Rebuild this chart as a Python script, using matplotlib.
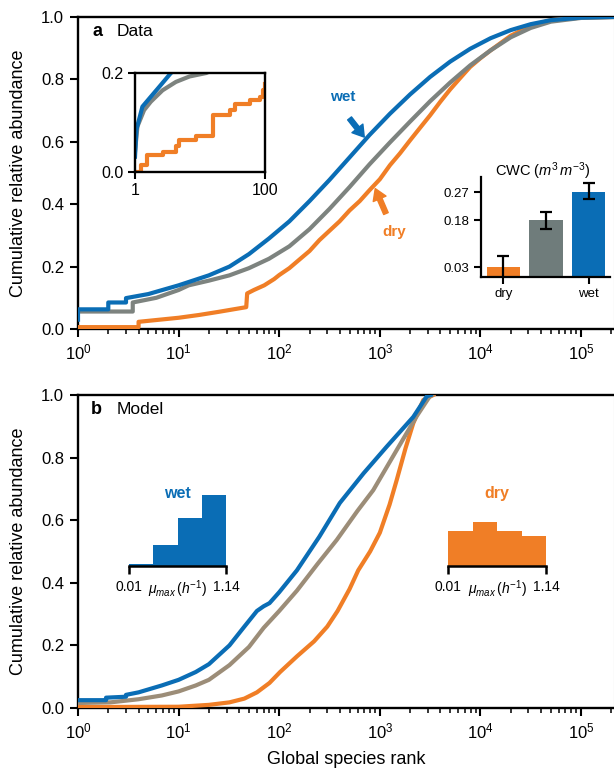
import matplotlib
matplotlib.use('Agg')
import matplotlib.pyplot as plt
import numpy as np
from matplotlib.ticker import LogLocator, NullFormatter, NullLocator

plt.rcParams['font.family'] = ['Liberation Sans', 'DejaVu Sans']
plt.rcParams['mathtext.fontset'] = 'custom'
plt.rcParams['mathtext.rm'] = 'Liberation Sans'
plt.rcParams['mathtext.it'] = 'Liberation Sans:italic'
plt.rcParams['mathtext.bf'] = 'Liberation Sans:bold'
plt.rcParams['mathtext.default'] = 'regular'

# ---------------- data ----------------
# Panel a (data): cumulative relative abundance vs global species rank
wet_a_rank = [1, 1, 2, 2, 3, 3, 5, 10, 20, 32, 50, 79, 126, 200, 316, 500, 790, 1260, 2000,
              3160, 5000, 7900, 12600, 20000, 31600, 50000, 100000, 210000]
wet_a_val = [0.03, 0.063, 0.063, 0.085, 0.085, 0.099, 0.112, 0.140, 0.172, 0.200, 0.240, 0.290,
             0.345, 0.410, 0.478, 0.550, 0.622, 0.690, 0.752, 0.808, 0.857, 0.898, 0.932, 0.958,
             0.977, 0.990, 0.998, 1.0]

mid_a_rank = [1, 3.5, 3.5, 6, 10, 12.6, 20, 32, 50, 79, 126, 200, 316, 500, 790, 1260, 2000,
              3160, 5000, 7900, 12600, 20000, 31600, 50000, 100000, 210000]
mid_a_val = [0.056, 0.056, 0.085, 0.100, 0.125, 0.140, 0.155, 0.172, 0.195, 0.225, 0.265, 0.320,
             0.385, 0.455, 0.528, 0.598, 0.665, 0.730, 0.790, 0.845, 0.893, 0.935, 0.965, 0.985,
             0.997, 1.0]

dry_a_rank = [1, 4, 4, 10, 16, 25, 35, 47, 48, 56, 71, 89, 100, 126, 158, 200, 251, 316, 398,
              500, 631, 790, 1000, 1260, 1585, 2000, 2512, 3160, 3981, 5000, 6310, 7900, 10000,
              12600, 20000, 31600, 50000, 100000, 210000]
dry_a_val = [0.006, 0.006, 0.023, 0.036, 0.045, 0.055, 0.063, 0.070, 0.114, 0.125, 0.140, 0.160,
             0.173, 0.195, 0.222, 0.250, 0.285, 0.315, 0.345, 0.380, 0.410, 0.445, 0.480, 0.525,
             0.563, 0.605, 0.645, 0.685, 0.728, 0.768, 0.805, 0.840, 0.868, 0.893, 0.940, 0.972,
             0.990, 0.998, 1.0]

# Inset of panel a (ranks 1-100)
wet_in_rank = [1.0, 1.05, 1.3, 1.75, 2.36, 3.57, 4.5]
wet_in_val = [0.031, 0.085, 0.132, 0.152, 0.172, 0.2, 0.21]
mid_in_rank = [1.0, 1.09, 1.38, 1.75, 2.65, 4.26, 6.9, 12.5, 15]
mid_in_val = [0.041, 0.092, 0.125, 0.142, 0.165, 0.182, 0.193, 0.2, 0.205]
dry_in_rank = [1.0, 1.22, 1.55, 2.65, 4.26, 4.8, 8.7, 15.8, 28.7, 34, 58, 83, 94, 100]
dry_in_val = [0.001, 0.015, 0.035, 0.041, 0.052, 0.065, 0.072, 0.115, 0.125, 0.138, 0.145, 0.152, 0.165, 0.178]

# CWC bar inset
cwc_labels = ['dry', '', 'wet']
cwc_vals = [0.03, 0.18, 0.272]
cwc_err_lo = [0.035, 0.027, 0.022]
cwc_err_hi = [0.035, 0.027, 0.029]

# Panel b (model)
wet_b_rank = [1, 1.9, 1.9, 3, 3, 4, 6.8, 10, 14.8, 20, 32, 45, 60, 70, 80, 100, 150, 250, 400,
              690, 1170, 2150, 2930, 3200]
wet_b_val = [0.025, 0.025, 0.033, 0.036, 0.042, 0.050, 0.072, 0.090, 0.115, 0.140, 0.200, 0.260,
             0.310, 0.325, 0.335, 0.370, 0.440, 0.547, 0.655, 0.750, 0.835, 0.930, 0.996, 1.0]
mid_b_rank = [1, 2.1, 4, 6.8, 10, 14.8, 20, 32, 50, 70, 100, 150, 240, 373, 600, 860, 1470, 2300, 3140, 3300]
mid_b_val = [0.016, 0.018, 0.028, 0.040, 0.053, 0.072, 0.090, 0.137, 0.195, 0.256, 0.310, 0.375,
             0.460, 0.537, 0.630, 0.696, 0.824, 0.930, 0.996, 1.0]
dry_b_rank = [1, 10, 20, 32, 45, 60, 80, 102, 150, 222, 300, 380, 500, 610, 800, 1000, 1250, 1470,
              1800, 2150, 2700, 3400]
dry_b_val = [0.003, 0.004, 0.010, 0.018, 0.030, 0.050, 0.080, 0.115, 0.165, 0.213, 0.260, 0.310,
             0.380, 0.440, 0.500, 0.560, 0.650, 0.728, 0.830, 0.910, 0.984, 1.0]

# mu_max histograms (4 bins between 0.01 and 1.14)
mu_edges = [0.01, 0.2925, 0.575, 0.8575, 1.14]
wet_hist = [5, 60, 139, 207]
dry_hist = [102, 128, 102, 87]

# ---------------- style ----------------
BLUE = '#0a6db5'
ORANGE = '#f07e26'
GREY = '#7d837f'
TAN = '#9c8d78'
BARGREY = '#6f7c7b'

W, H = 614, 773
fig = plt.figure(figsize=(W / 100, H / 100), dpi=100)


def box(x0, y0, x1, y1):
    return [x0 / W, 1 - y1 / H, (x1 - x0) / W, (y1 - y0) / H]


def style_main(ax):
    ax.set_xscale('log')
    ax.set_xlim(1, 2.1e5)
    ax.set_ylim(0, 1)
    ax.set_yticks([0, 0.2, 0.4, 0.6, 0.8, 1.0])
    ax.set_yticklabels(['0.0', '0.2', '0.4', '0.6', '0.8', '1.0'])
    ax.set_xticks([1e0, 1e1, 1e2, 1e3, 1e4, 1e5])
    ax.xaxis.set_minor_locator(LogLocator(base=10, subs=np.arange(2, 10), numticks=20))
    ax.xaxis.set_minor_formatter(NullFormatter())
    for s in ['left', 'bottom', 'top']:
        ax.spines[s].set_linewidth(1.7)
        ax.spines[s].set_color('black')
    ax.spines['right'].set_linewidth(0.8)
    ax.spines['right'].set_color('#c4c4c4')
    ax.tick_params(which='major', length=6, width=1.5, labelsize=12, direction='out',
                   top=False, right=False, pad=4)
    ax.tick_params(which='minor', length=3.5, width=1.1, top=False, right=False)
    ax.set_ylabel('Cumulative relative abundance', fontsize=13)
    ax.yaxis.set_label_coords((27 - 78) / 535.5, 0.5)


# ---------------- panel a ----------------
axA = fig.add_axes(box(78, 17, 613.5, 329))
style_main(axA)
axA.plot(dry_a_rank, dry_a_val, color=ORANGE, lw=3, zorder=3)
axA.plot(mid_a_rank, mid_a_val, color=GREY, lw=3, zorder=4)
axA.plot(wet_a_rank, wet_a_val, color=BLUE, lw=3, zorder=5)
axA.text(0.037, 0.955, 'a', transform=axA.transAxes, fontsize=13, fontweight='bold', va='center', ha='center')
axA.text(0.073, 0.955, 'Data', transform=axA.transAxes, fontsize=12.5, va='center', ha='left')

axA.annotate('', xy=(700, 0.615), xytext=(500, 0.675),
             arrowprops=dict(facecolor=BLUE, edgecolor=BLUE, width=3.5, headwidth=10, headlength=8, shrink=0))
axA.text(424, 0.745, 'wet', color=BLUE, fontsize=11, fontweight='bold', ha='center', va='center')
axA.annotate('', xy=(900, 0.45), xytext=(1150, 0.37),
             arrowprops=dict(facecolor=ORANGE, edgecolor=ORANGE, width=3.5, headwidth=10, headlength=8, shrink=0))
axA.text(1400, 0.31, 'dry', color=ORANGE, fontsize=11, fontweight='bold', ha='center', va='center')

# inset (ranks 1-100)
axI = fig.add_axes(box(135, 73, 265, 172))
axI.set_xscale('log')
axI.plot(dry_in_rank, dry_in_val, color=ORANGE, lw=3, drawstyle='steps-post')
axI.plot(mid_in_rank, mid_in_val, color=GREY, lw=3)
axI.plot(wet_in_rank, wet_in_val, color=BLUE, lw=3)
axI.set_xlim(1, 100)
axI.set_ylim(0, 0.2)
axI.set_xticks([1, 100])
axI.set_xticklabels(['1', '100'])
axI.xaxis.set_minor_locator(NullLocator())
axI.set_yticks([0, 0.2])
axI.set_yticklabels(['0.0', '0.2'])
for s in axI.spines.values():
    s.set_linewidth(1.7)
    s.set_color('black')
axI.tick_params(length=5, width=1.5, labelsize=11.5, pad=3)

# CWC bar inset
axC = fig.add_axes(box(480.7, 176.7, 610, 276.7))
axC.set_facecolor('none')
xpos = np.arange(len(cwc_vals))
axC.bar(xpos, cwc_vals, width=0.78, color=[ORANGE, BARGREY, BLUE],
        yerr=[cwc_err_lo, cwc_err_hi], capsize=4,
        error_kw=dict(elinewidth=1.6, capthick=1.6, ecolor='black'))
axC.set_xlim(-0.53, 2.5)
axC.set_ylim(0, 0.32)
axC.set_yticks([0.03, 0.18, 0.27])
axC.set_yticklabels(['0.03', '0.18', '0.27'])
axC.set_xticks([0, 2])
axC.set_xticklabels([cwc_labels[0], cwc_labels[2]])
for s in ['top', 'right']:
    axC.spines[s].set_visible(False)
for s in ['left', 'bottom']:
    axC.spines[s].set_linewidth(1.6)
axC.tick_params(length=5, width=1.5, labelsize=9.5, pad=3)
axC.text(0.48, 1.05, r'CWC ($\mathit{m}^3\,\mathit{m}^{-3}$)', transform=axC.transAxes,
         ha='center', va='center', fontsize=10.5)

# ---------------- panel b ----------------
axB = fig.add_axes(box(78, 395, 613.5, 708))
style_main(axB)
axB.plot(dry_b_rank, dry_b_val, color=ORANGE, lw=3, zorder=3)
axB.plot(mid_b_rank, mid_b_val, color=TAN, lw=3, zorder=4)
axB.plot(wet_b_rank, wet_b_val, color=BLUE, lw=3, zorder=5)
axB.text(0.035, 0.955, 'b', transform=axB.transAxes, fontsize=13, fontweight='bold', va='center', ha='center')
axB.text(0.073, 0.955, 'Model', transform=axB.transAxes, fontsize=12.5, va='center', ha='left')
axB.set_xlabel('Global species rank', fontsize=13)
axB.xaxis.set_label_coords(0.5, (708 - 751) / 313)


def hist_axes(rect, counts, color, name):
    ax = fig.add_axes(rect)
    ax.set_facecolor('none')
    ax.stairs(counts, mu_edges, fill=True, color=color, lw=0)
    ax.set_xlim(mu_edges[0], mu_edges[-1])
    ax.set_ylim(0, 207)
    for s in ['top', 'right', 'left']:
        ax.spines[s].set_visible(False)
    ax.spines['bottom'].set_linewidth(1.8)
    ax.set_yticks([])
    ax.set_xticks([mu_edges[0], mu_edges[-1]])
    ax.set_xticklabels(['0.01', '1.14'])
    ax.tick_params(axis='x', length=6, width=1.8, labelsize=10, pad=4)
    ax.text(0.5, -0.33, r'$\mathit{\mu}_{\mathit{max}}\,(\mathit{h}^{-1})$', transform=ax.transAxes,
            ha='center', va='center', fontsize=10)
    ax.text(0.5, 1.02, name, transform=ax.transAxes, ha='center', va='center',
            fontsize=11.5, fontweight='bold', color=color)
    return ax


hist_axes(box(129.3, 495, 226, 566), wet_hist, BLUE, 'wet')
hist_axes(box(448.3, 495, 546, 566), dry_hist, ORANGE, 'dry')

fig.savefig('out.png', dpi=100)
